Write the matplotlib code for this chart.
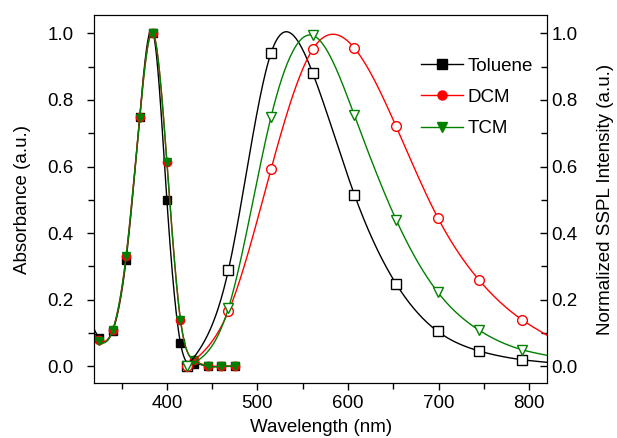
import numpy as np
import matplotlib.pyplot as plt
from matplotlib.ticker import MultipleLocator

plt.rcParams['font.family'] = ['Liberation Sans', 'DejaVu Sans']
plt.rcParams['font.size'] = 13.5

# absorption spectra (left axis); first entry is the value at the axis edge
abs_wl = [320, 325, 340, 355, 370, 385, 400, 415, 430, 445, 460, 475]
abs_toluene = [0.11, 0.085, 0.105, 0.32, 0.75, 1.0, 0.50, 0.07, 0.008, 0.0, 0.0, 0.0]
abs_dcm = [0.095, 0.08, 0.108, 0.33, 0.75, 1.0, 0.615, 0.14, 0.018, 0.002, 0.0, 0.0]
abs_tcm = [0.09, 0.075, 0.108, 0.33, 0.745, 1.0, 0.615, 0.14, 0.018, 0.0, 0.0, 0.0]

# SSPL spectra (right axis); last entry is the value at the axis edge
pl_wl = [422, 468, 515, 561, 607, 653, 699, 745, 792, 820]
pl_toluene = [0.0, 0.29, 0.941, 0.881, 0.516, 0.248, 0.105, 0.046, 0.020, 0.012]
pl_dcm = [0.0, 0.165, 0.592, 0.952, 0.956, 0.721, 0.447, 0.258, 0.140, 0.093]
pl_tcm = [0.0, 0.175, 0.749, 0.994, 0.754, 0.441, 0.223, 0.108, 0.050, 0.033]

names = ['Toluene', 'DCM', 'TCM']
colors = ['black', 'red', 'green']
markers = ['s', 'o', 'v']


def spline(x, y, xs):
    # natural cubic spline through (x, y), evaluated at xs
    x = np.asarray(x, float)
    y = np.asarray(y, float)
    n = len(x)
    h = np.diff(x)
    A = np.zeros((n, n))
    b = np.zeros(n)
    A[0, 0] = A[-1, -1] = 1
    for i in range(1, n - 1):
        A[i, i - 1] = h[i - 1]
        A[i, i] = 2 * (h[i - 1] + h[i])
        A[i, i + 1] = h[i]
        b[i] = 6 * ((y[i + 1] - y[i]) / h[i] - (y[i] - y[i - 1]) / h[i - 1])
    m = np.linalg.solve(A, b)
    k = np.clip(np.searchsorted(x, xs) - 1, 0, n - 2)
    t0 = x[k + 1] - xs
    t1 = xs - x[k]
    hk = h[k]
    return (m[k] * t0 ** 3 / (6 * hk) + m[k + 1] * t1 ** 3 / (6 * hk)
            + (y[k] / hk - m[k] * hk / 6) * t0
            + (y[k + 1] / hk - m[k + 1] * hk / 6) * t1)


fig = plt.figure(figsize=(6.17, 4.38), dpi=100)
ax = fig.add_axes([0.153, 0.1256, 0.734, 0.840])
ax2 = ax.twinx()

handles = []
for name, c, mk, ya in zip(names, colors, markers, [abs_toluene, abs_dcm, abs_tcm]):
    xs = np.linspace(abs_wl[0], abs_wl[-1], 300)
    ax.plot(xs, spline(abs_wl, ya, xs), color=c, lw=1)
    ax.plot(abs_wl[1:], ya[1:], ls='none', marker=mk, ms=6, color=c)
    h, = ax.plot([], [], color=c, lw=1, marker=mk, ms=6.5, label=name)
    handles.append(h)

for c, mk, yp in zip(colors, markers, [pl_toluene, pl_dcm, pl_tcm]):
    xs = np.linspace(pl_wl[0], pl_wl[-1], 400)
    ax2.plot(xs, spline(pl_wl, yp, xs), color=c, lw=1)
    ax2.plot(pl_wl[:-1], yp[:-1], ls='none', marker=mk, ms=7,
             mfc='white', mec=c, mew=1)

for a in (ax, ax2):
    a.set_xlim(320, 820)
    a.set_ylim(-0.05, 1.055)
    a.yaxis.set_major_locator(MultipleLocator(0.2))
    a.yaxis.set_minor_locator(MultipleLocator(0.1))

ax.xaxis.set_major_locator(MultipleLocator(100))
ax.xaxis.set_minor_locator(MultipleLocator(50))
ax.tick_params(axis='both', which='major', direction='out', length=5, width=1, pad=4)
ax.tick_params(axis='y', which='major', pad=10)
ax.tick_params(axis='both', which='minor', direction='out', length=4, width=1)
ax.tick_params(axis='x', which='both', top=False)
ax2.tick_params(axis='y', which='major', direction='in', length=5, width=1, pad=3)
ax2.tick_params(axis='y', which='minor', direction='in', length=4, width=1)
ax.set_yticklabels([f'{v:.1f}' for v in ax.get_yticks()])
ax2.set_yticklabels([f'{v:.1f}' for v in ax2.get_yticks()])

ax.set_xlabel('Wavelength (nm)', labelpad=5)
ax.set_ylabel('Absorbance (a.u.)', labelpad=12)
ax2.set_ylabel('Normalized SSPL Intensity (a.u.)', labelpad=14)

ax2.legend(handles=handles, loc='upper right', bbox_to_anchor=(1.005, 0.93),
           frameon=False, handlelength=2.2, labelspacing=0.75,
           handletextpad=0.25, fontsize=13.5)

fig.savefig('out.png', dpi=100)
